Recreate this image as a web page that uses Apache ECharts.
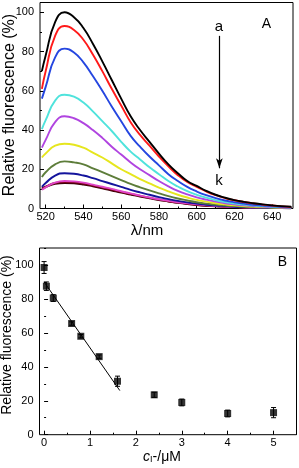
<!DOCTYPE html>
<html>
<head>
<meta charset="utf-8">
<script src="https://cdn.jsdelivr.net/npm/echarts@6/dist/echarts.min.js"></script>
<style>html,body{margin:0;padding:0;background:#fff}#c{width:299px;height:468px}</style>
</head>
<body>
<div id="c"></div>
<script>
// ---- Panel A data (relative fluorescence vs wavelength) ----
var wavelengths = [518,520,525,530,535,540,545,550,555,560,565,570,575,580,585,590,595,600,605,610,615,620,625,630,635,640,645,650];
var curveA = [70,78,95,100,97.5,92,84,75,65.5,56,47,40,34,28,22.5,18,14,11.5,9,7,5.5,4.3,3.4,2.7,2.1,1.6,1.2,0.9];
var curveB = [61,70,88,93,91,86,78.5,70,61,52.5,44,37.5,32,26.5,21.5,17,13.5,11,8.7,6.8,5.3,4.2,3.3,2.6,2,1.5,1.1,0.8];
var curveC = [56,62,77,81.5,79.5,74.5,67.5,60,52,44.5,37,31.5,26.5,22,17.5,14,11,8.7,6.8,5.3,4.1,3.2,2.5,1.9,1.5,1.1,0.8,0.6];
var curveD = [40.5,45,55,58,57,54,49.5,44.5,39.5,34,29,25,21,17.5,14,11.2,8.8,7,5.5,4.3,3.3,2.6,2,1.6,1.2,0.9,0.7,0.5];
var curveE = [31,35,44,47,46,43.5,40,36,31.5,27.5,23.5,20,17,14,11.3,9,7.2,5.7,4.5,3.5,2.7,2.1,1.6,1.3,1,0.7,0.5,0.4];
var curveF = [26,28,32,33,32.5,31,28.5,26,23,20,17.5,15,12.8,10.6,8.7,7,5.6,4.4,3.5,2.7,2.1,1.6,1.3,1,0.8,0.6,0.4,0.3];
var curveG = [16,18.5,22.5,24,23.5,22.5,20.5,18.5,16.5,14.5,12.5,10.8,9.2,7.7,6.3,5.1,4.1,3.2,2.5,2,1.5,1.2,0.9,0.7,0.5,0.4,0.3,0.2];
var curveH = [11,13,16.8,18,17.7,16.8,15.5,14,12.5,11,9.5,8.2,7,5.8,4.8,3.9,3.1,2.5,1.9,1.5,1.2,0.9,0.7,0.5,0.4,0.3,0.2,0.2];
var curveI = [9.5,10.8,13.2,14,13.8,13.2,12.2,11.1,10,8.8,7.7,6.6,5.6,4.7,3.9,3.2,2.6,2.1,1.7,1.3,1,0.8,0.6,0.5,0.4,0.3,0.2,0.2];
var curveJ = [10.5,11.2,13,13.5,13.3,12.7,11.7,10.7,9.6,8.5,7.4,6.4,5.4,4.5,3.7,3,2.4,1.9,1.5,1.2,0.9,0.7,0.5,0.4,0.3,0.2,0.2,0.1];
var curveK = [10,10.9,12.6,13,12.8,12.2,11.3,10.3,9.2,8.1,7.1,6.1,5.2,4.3,3.6,2.9,2.3,1.8,1.4,1.1,0.9,0.7,0.5,0.4,0.3,0.2,0.2,0.1];
var curveNames = ['a','b','c','d','e','f','g','h','i','j','k'];

// ---- Panel B data ----
var concentrations = [0,0.05,0.2,0.6,0.8,1.2,1.6,2.4,3,4,5];
var fluorescence   = [98.5,87.5,80.5,65.5,58,46,31.5,23.5,19,12.5,13];
var errors         = [3.5,2.5,2,1,1,1,3,1.5,2,2,3];
var fitX = [0,1.65];
var fitY = [90,26];

// ---- tick values ----
var topXMajor = [520,540,560,580,600,620,640];
var topXMinor = [530,550,570,590,610,630,650];
var yMajorVals = [0,20,40,60,80,100];
var topYMinor = [10,30,50,70,90];
var botXMajor = [0,1,2,3,4,5];
var botXMinor = [0.5,1.5,2.5,3.5,4.5,5.5];
var botYMinor = [10,30,50,70,90,110];

var FONT = 'Liberation Sans, Arial, sans-serif';
var colors = ['#000000','#ff1a1a','#2546e0','#4fe3dc','#b044e0','#e6e61e','#5d7d3a','#14149c','#e045c8','#80001a','#3a0008'];
var curves = [curveA,curveB,curveC,curveD,curveE,curveF,curveG,curveH,curveI,curveJ,curveK];

function majorAxis(grid, pos, min, max, vals, margin, showLabels) {
  return {
    type:'value', gridIndex:grid, position:pos, min:min, max:max,
    axisLine:{show:false}, splitLine:{show:false},
    axisTick:{show:true, inside:true, length:4, customValues:vals, lineStyle:{color:'#000', width:1}},
    axisLabel:{show:showLabels !== false, hideOverlap:false, customValues:vals, margin:margin, color:'#000', fontSize:11, fontFamily:FONT}
  };
}
function minorAxis(grid, pos, min, max, vals) {
  return {
    type:'value', gridIndex:grid, position:pos, min:min, max:max,
    axisLine:{show:false}, splitLine:{show:false},
    axisTick:{show:true, inside:true, length:2, customValues:vals, lineStyle:{color:'#000', width:1}},
    axisLabel:{show:false}
  };
}

var series = [];
curves.forEach(function(c, i){
  series.push({
    type:'line', name:curveNames[i], xAxisIndex:0, yAxisIndex:0,
    smooth:0.5, showSymbol:false, symbol:'none',
    lineStyle:{color:colors[i], width:1.9},
    data: wavelengths.map(function(w, j){ return [w, c[j]]; }),
    z: 20 - i
  });
});
series[0].markLine = {
  silent:true, symbol:['none','arrow'], symbolSize:[5,10], label:{show:false},
  lineStyle:{color:'#000', width:1.2, type:'solid'},
  data:[[{coord:[612,88]},{coord:[612,20.5]}]]
};

series.push({
  type:'line', xAxisIndex:2, yAxisIndex:2, showSymbol:false, symbol:'none',
  lineStyle:{color:'#000', width:1},
  data: fitX.map(function(x,i){ return [x, fitY[i]]; })
});
series.push({
  type:'custom', xAxisIndex:2, yAxisIndex:2,
  renderItem:function(params, api){
    var x = api.value(0), y = api.value(1), e = api.value(2);
    var top = api.coord([x, y + e]), bot = api.coord([x, y - e]);
    var w = 2.5;
    return {type:'group', children:[
      {type:'line', shape:{x1:top[0], y1:top[1], x2:bot[0], y2:bot[1]}, style:{stroke:'#000', lineWidth:1}},
      {type:'line', shape:{x1:top[0]-w, y1:top[1], x2:top[0]+w, y2:top[1]}, style:{stroke:'#000', lineWidth:1}},
      {type:'line', shape:{x1:bot[0]-w, y1:bot[1], x2:bot[0]+w, y2:bot[1]}, style:{stroke:'#000', lineWidth:1}}
    ]};
  },
  data: concentrations.map(function(x,i){ return [x, fluorescence[i], errors[i]]; }),
  z: 5
});
series.push({
  type:'scatter', xAxisIndex:2, yAxisIndex:2, symbol:'rect', symbolSize:7,
  itemStyle:{color:'#000'},
  data: concentrations.map(function(x,i){ return [x, fluorescence[i]]; }),
  z: 10
});

var graphics = [
  {type:'text', z:100, x:10, y:105, rotation:Math.PI/2, style:{text:'Relative fluorescence (%)', fontSize:16, fontFamily:FONT, fill:'#000', textAlign:'center', textVerticalAlign:'middle'}},
  {type:'text', z:100, x:7.5, y:335, rotation:Math.PI/2, style:{text:'Relative fluorescence (%)', fontSize:14, fontFamily:FONT, fill:'#000', textAlign:'center', textVerticalAlign:'middle'}},
  {type:'text', z:100, x:147, y:231, style:{text:'λ/nm', fontSize:15, fontFamily:FONT, fill:'#000', textAlign:'center', textVerticalAlign:'middle'}},
  {type:'text', z:100, x:162, y:457, style:{
    text:'{i|c}{s|I}{n|-/μM}', textAlign:'center', textVerticalAlign:'middle',
    rich:{
      i:{fontSize:14, fontStyle:'italic', fontFamily:FONT, fill:'#000'},
      s:{fontSize:9, fontFamily:FONT, fill:'#000', padding:[6,0,0,0]},
      n:{fontSize:14, fontFamily:FONT, fill:'#000'}
    }}},
  {type:'text', z:100, x:266.5, y:24, style:{text:'A', fontSize:14, fontFamily:FONT, fill:'#000', textAlign:'center', textVerticalAlign:'middle'}},
  {type:'text', z:100, x:282.5, y:262, style:{text:'B', fontSize:14, fontFamily:FONT, fill:'#000', textAlign:'center', textVerticalAlign:'middle'}},
  {type:'text', z:100, x:219, y:27, style:{text:'a', fontSize:15, fontFamily:FONT, fill:'#000', textAlign:'center', textVerticalAlign:'middle'}},
  {type:'text', z:100, x:219, y:181, style:{text:'k', fontSize:15, fontFamily:FONT, fill:'#000', textAlign:'center', textVerticalAlign:'middle'}}
];

var option = {
  animation:false,
  backgroundColor:'#fff',
  grid:[
    {left:40, top:2.5, width:253, height:206, show:true, borderColor:'#000', borderWidth:1, backgroundColor:'transparent', containLabel:false, outerBoundsMode:'none'},
    {left:39.5, top:248, width:257, height:186.7, show:true, borderColor:'#000', borderWidth:1, backgroundColor:'transparent', containLabel:false, outerBoundsMode:'none'}
  ],
  xAxis:[
    majorAxis(0,'bottom',517,651,topXMajor,3),
    minorAxis(0,'bottom',517,651,topXMinor),
    majorAxis(1,'bottom',-0.1,5.5,botXMajor,3),
    minorAxis(1,'bottom',-0.1,5.5,botXMinor)
  ],
  yAxis:[
    majorAxis(0,'left',0,105,yMajorVals,6),
    minorAxis(0,'left',0,105,topYMinor),
    majorAxis(1,'left',0,110,yMajorVals,6,false),
    minorAxis(1,'left',0,110,botYMinor)
  ],
  series:series,
  graphic:graphics
};
var chart = echarts.init(document.getElementById('c'), null, {renderer:'canvas'});
chart.setOption(option);

// tick labels of panel B's y axis, positioned through the axis scale, drawn on top
var axisLeftPx = chart.convertToPixel({xAxisIndex:2}, -0.1);
var labelGraphics = yMajorVals.map(function(v){
  return {type:'text', z:200, x:axisLeftPx - 6, y:chart.convertToPixel({yAxisIndex:2}, v),
    style:{text:String(v), fontSize:11, fontFamily:FONT, fill:'#000', textAlign:'right', textVerticalAlign:'middle'}};
});
chart.setOption({graphic: graphics.concat(labelGraphics)});
</script>
</body>
</html>
